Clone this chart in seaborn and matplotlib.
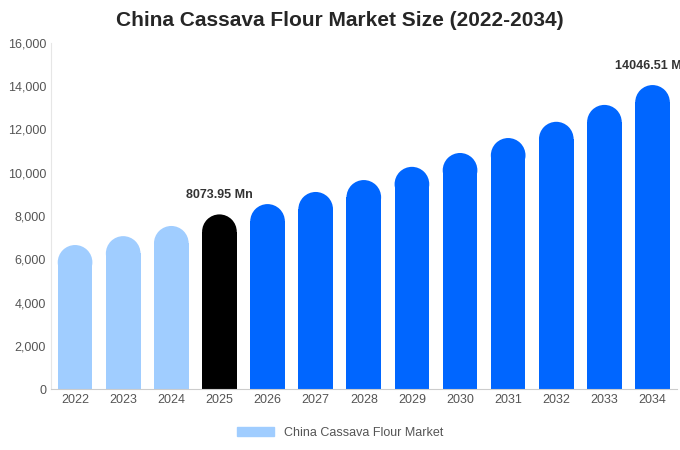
import matplotlib
matplotlib.use("Agg")
import matplotlib.pyplot as plt
import seaborn as sns
import pandas as pd
from matplotlib.patches import Ellipse, Patch

years = [str(y) for y in range(2022, 2035)]
values = [6660, 7070, 7540, 8073.95, 8550, 9110, 9660, 10270, 10910, 11600, 12350, 13130, 14046.51]
colors = ["#a0cdff"]*3 + ["#000000"] + ["#0066ff"]*9

sns.set_style("white")
plt.rcParams['font.family'] = ['Liberation Sans', 'DejaVu Sans']
fig, ax = plt.subplots(figsize=(6.8, 4.5), dpi=100)
fig.subplots_adjust(left=0.075, right=0.995, top=0.905, bottom=0.135)
df = pd.DataFrame({"year": years, "value": values})
sns.barplot(data=df, x="year", y="value", hue="year", palette=colors, legend=False, ax=ax,
            width=0.72, saturation=1, linewidth=0, edgecolor="none")
ax.set_ylim(0, 16000)
ax.set_xlim(-0.5, 12.5)
fig.canvas.draw()
p0 = ax.transData.transform((0, 0)); p1 = ax.transData.transform((0, 1000))
px_per_unit = (p1[1]-p0[1]) / 1000
for patch, c in zip(list(ax.patches), colors):
    patch.set_linewidth(0)
    w = patch.get_width()
    wpx = ax.transData.transform((w, 0))[0] - ax.transData.transform((0, 0))[0]
    r = (wpx/2) / px_per_unit
    h = patch.get_height()
    patch.set_height(h - r)
    ax.add_patch(Ellipse((patch.get_x()+w/2, h - r), w, 2*r, facecolor=c, edgecolor="none", lw=0))
ax.set_ylim(0, 16000)
ax.set_yticks(range(0, 16001, 2000))
ax.set_yticklabels([f"{v:,}" for v in range(0, 16001, 2000)])
ax.tick_params(labelsize=9, colors="#555555", length=0)
ax.set_xlabel(""); ax.set_ylabel("")
for s in ["top", "right"]:
    ax.spines[s].set_visible(False)
ax.spines["left"].set_color("#e6e6e6")
ax.spines["bottom"].set_color("#cccccc")
ax.text(3, 8073.95 + 600, "8073.95 Mn", ha="center", va="bottom", fontsize=9, fontweight="bold", color="#333333")
ax.text(12, 14046.51 + 600, "14046.51 Mn", ha="center", va="bottom", fontsize=9, fontweight="bold", color="#333333")
fig.suptitle("China Cassava Flour Market Size (2022-2034)", fontsize=15, fontweight="bold", y=0.975)
fig.legend(handles=[Patch(color="#a0cdff", label="China Cassava Flour Market")], loc="lower center",
           bbox_to_anchor=(0.5, 0.0), frameon=False, fontsize=9, handlelength=3, labelcolor="#555555")
fig.savefig("out.png", dpi=100)
